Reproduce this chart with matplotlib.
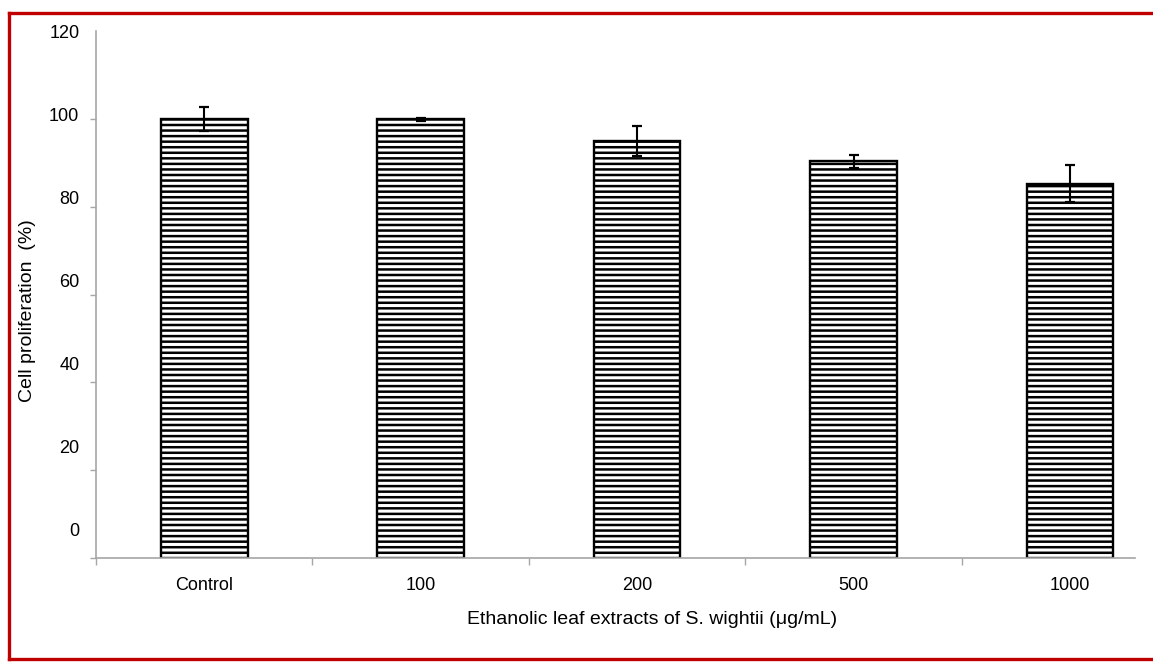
import matplotlib
matplotlib.use("Agg")
import matplotlib.pyplot as plt
from matplotlib.lines import Line2D
import numpy as np

# data
categories = ["Control", "100", "200", "500", "1000"]
values = [100, 99.9, 95.0, 90.3, 85.2]
errors = [2.7, 0.4, 3.4, 1.4, 4.2]
ytick_values = [0, 20, 40, 60, 80, 100, 120]

plt.rcParams['font.family'] = ['Liberation Sans', 'DejaVu Sans']
plt.rcParams['hatch.linewidth'] = 1.8
plt.rcParams['hatch.color'] = 'black'

W, H = 1153, 662
fig = plt.figure(figsize=(W / 100, H / 100), dpi=100)

# axes placed in pixel terms
left, right, top, bottom = 96, 1135, 31, 558
ax = fig.add_axes([left / W, 1 - bottom / H, (right - left) / W, (bottom - top) / H])

x = np.arange(len(categories))
ax.bar(x, values, width=0.4, color='white', edgecolor='black',
       linewidth=1.7, hatch='---', zorder=2)
ax.errorbar(x, values, yerr=errors, fmt='none', ecolor='black',
            elinewidth=1.5, capsize=3.8, capthick=1.6, zorder=3)

ax.set_xlim(-0.5, 4.3)
ax.set_ylim(0, 120)

grey = '#a6a6a6'
for s in ['top', 'right']:
    ax.spines[s].set_visible(False)
for s in ['left', 'bottom']:
    ax.spines[s].set_color(grey)
    ax.spines[s].set_linewidth(1.2)

# tick marks as minor ticks, labels as major ticks (labels drift from marks in the original)
ax.set_yticks(ytick_values, minor=True)
ax.set_yticks([6.6 + v * 0.945 for v in ytick_values])
ax.set_yticklabels([str(v) for v in ytick_values], fontsize=13)
ax.tick_params(axis='y', which='major', length=0, pad=12)
ax.tick_params(axis='y', which='minor', length=4.5, width=1, color=grey, direction='out')

ax.set_xticks(np.arange(-0.5, 4.5, 1.0), minor=True)
ax.set_xticks(x)
ax.set_xticklabels(categories, fontsize=13)
ax.tick_params(axis='x', which='major', length=0, pad=14)
ax.tick_params(axis='x', which='minor', length=5, width=1, color=grey, direction='out')

fig.text(652 / W, 1 - 620 / H, "Ethanolic leaf extracts of S. wightii (\u03bcg/mL)",
         ha='center', va='center', fontsize=14)
fig.text(28 / W, 1 - 311 / H, "Cell proliferation  (%)", rotation=90,
         ha='center', va='center', fontsize=14)

# red frame (left, top, bottom)
red = '#c00000'
fig.add_artist(Line2D([8.5 / W, 8.5 / W], [1 - 12.5 / H, 1 - 659 / H], color=red, lw=2.4))
fig.add_artist(Line2D([8.5 / W, 1.0], [1 - 12.5 / H, 1 - 12.5 / H], color=red, lw=2.4))
fig.add_artist(Line2D([8.5 / W, 1.0], [1 - 659 / H, 1 - 659 / H], color=red, lw=2.4))

fig.savefig("out.png", dpi=100)
